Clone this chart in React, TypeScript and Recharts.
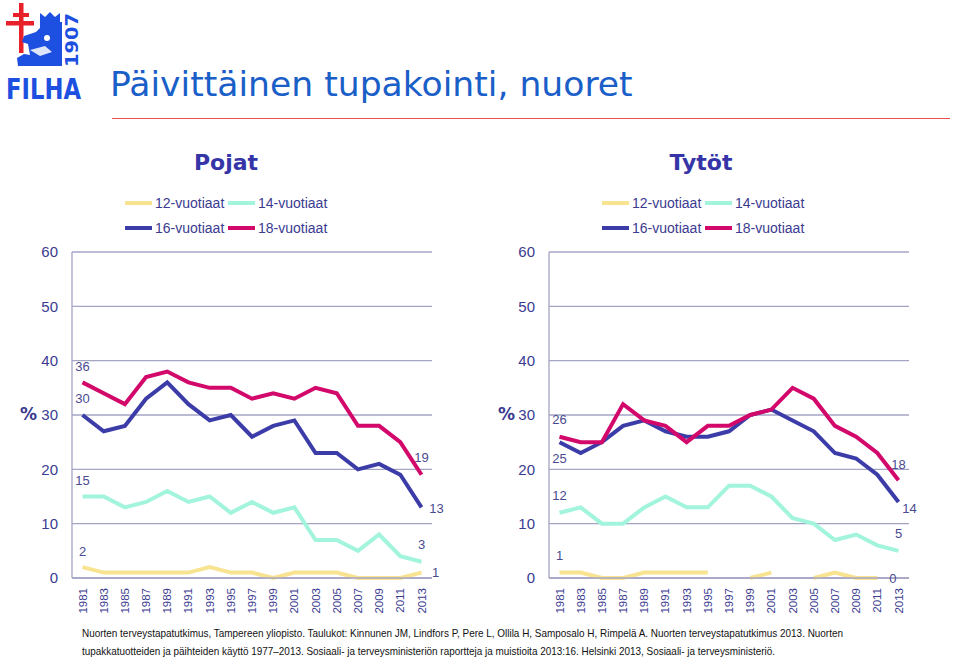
import React from 'react'
import { LineChart, Line, XAxis, YAxis, CartesianGrid, ReferenceDot } from 'recharts'

// Daily smoking, % by age group (Nuorten terveystapatutkimus 1981–2013)
const years = ['1981', '1983', '1985', '1987', '1989', '1991', '1993', '1995', '1997', '1999', '2001', '2003', '2005', '2007', '2009', '2011', '2013']

const boys12 = [2, 1, 1, 1, 1, 1, 2, 1, 1, 0, 1, 1, 1, 0, 0, 0, 1]
const boys14 = [15, 15, 13, 14, 16, 14, 15, 12, 14, 12, 13, 7, 7, 5, 8, 4, 3]
const boys16 = [30, 27, 28, 33, 36, 32, 29, 30, 26, 28, 29, 23, 23, 20, 21, 19, 13]
const boys18 = [36, 34, 32, 37, 38, 36, 35, 35, 33, 34, 33, 35, 34, 28, 28, 25, 19]

const girls12 = [1, 1, 0, 0, 1, 1, 1, 1, null, 0, 1, null, 0, 1, 0, 0, null]
const girls14 = [12, 13, 10, 10, 13, 15, 13, 13, 17, 17, 15, 11, 10, 7, 8, 6, 5]
const girls16 = [25, 23, 25, 28, 29, 27, 26, 26, 27, 30, 31, 29, 27, 23, 22, 19, 14]
const girls18 = [26, 25, 25, 32, 29, 28, 25, 28, 28, 30, 31, 35, 33, 28, 26, 23, 18]
// 2013 value for 12-year-old girls is printed but no line is drawn to it
const girls12Last = 0

const yTicks = [0, 10, 20, 30, 40, 50, 60]

const colors = {
  y12: '#f8e391',
  y14: '#a2f5dc',
  y16: '#3c3ca8',
  y18: '#d2086a',
}
const legendItems = [
  { key: 'y12', label: '12-vuotiaat' },
  { key: 'y14', label: '14-vuotiaat' },
  { key: 'y16', label: '16-vuotiaat' },
  { key: 'y18', label: '18-vuotiaat' },
]

const textBlue = '#3b3b90'
const labelColor = '#4a4a90'
const gridColor = '#a4a4c4'

const boysData = years.map((year, i) => ({
  year,
  y12: boys12[i],
  y14: boys14[i],
  y16: boys16[i],
  y18: boys18[i],
}))
const girlsData = years.map((year, i) => ({
  year,
  y12: girls12[i],
  y14: girls14[i],
  y16: girls16[i],
  y18: girls18[i],
}))

type Off = { dx: number; dy: number }

// dot renderer that only prints the first and last value
const endLabels = (first: Off | null, last: Off | null) => (props: any) => {
  const { cx, cy, index, value, key } = props
  const off = index === 0 ? first : index === years.length - 1 ? last : null
  if (!off || cy == null || value == null) return <g key={key ?? index} />
  return (
    <text
      key={key ?? index}
      x={cx + off.dx}
      y={cy + off.dy}
      textAnchor="middle"
      dominantBaseline="central"
      fontSize={13}
      fontFamily="'Liberation Sans', Arial, sans-serif"
      fill={labelColor}
    >
      {value}
    </text>
  )
}

const YearTick = (props: any) => {
  const { x, y, payload } = props
  return (
    <text
      x={x}
      y={y + 2}
      transform={`rotate(-90 ${x} ${y + 2})`}
      textAnchor="end"
      dominantBaseline="central"
      fontSize={11.5}
      fontFamily="'Liberation Sans', Arial, sans-serif"
      fill={textBlue}
    >
      {payload.value}
    </text>
  )
}

function Legend({ left }: { left: number }) {
  const rows = [legendItems.slice(0, 2), legendItems.slice(2, 4)]
  return (
    <div style={{ position: 'absolute', left, top: 190 }}>
      {rows.map((row, r) => (
        <div key={r} style={{ display: 'flex', alignItems: 'center', height: 25 }}>
          {row.map((it) => (
            <div key={it.key} style={{ display: 'flex', alignItems: 'center', width: 103 }}>
              <div style={{ width: 27, height: 4, background: (colors as any)[it.key], marginRight: 3 }} />
              <span style={{ fontSize: 14, color: textBlue, fontFamily: "'Liberation Sans', Arial, sans-serif" }}>
                {it.label}
              </span>
            </div>
          ))}
        </div>
      ))}
    </div>
  )
}

function Panel({ data, left, labels, extra }: { data: any[]; left: number; labels: Record<string, [Off | null, Off | null]>; extra?: React.ReactNode }) {
  return (
    <div style={{ position: 'absolute', left, top: 242 }}>
      <LineChart width={426} height={381} data={data} margin={{ top: 10, right: 26, left: 0, bottom: 0 }}>
        <CartesianGrid vertical={false} stroke={gridColor} strokeWidth={1.3} />
        <XAxis
          dataKey="year"
          padding={{ left: 10.5, right: 10.5 }}
          height={45}
          interval={0}
          tickLine={false}
          axisLine={{ stroke: gridColor, strokeWidth: 1.3 }}
          tick={<YearTick />}
        />
        <YAxis
          domain={[0, 60]}
          ticks={yTicks}
          width={40}
          tickLine={false}
          tickMargin={8}
          axisLine={{ stroke: gridColor, strokeWidth: 1.3 }}
          tick={{ fontSize: 15, fill: textBlue, fontFamily: "'Liberation Sans', Arial, sans-serif" }}
        />
        {(['y12', 'y14', 'y16', 'y18'] as const).map((k) => (
          <Line
            key={k}
            type="linear"
            dataKey={k}
            stroke={colors[k]}
            strokeWidth={4}
            dot={endLabels(labels[k][0], labels[k][1])}
            activeDot={false}
            isAnimationActive={false}
          />
        ))}
        {extra}
      </LineChart>
    </div>
  )
}

function Logo() {
  return (
    <svg width={106} height={115} style={{ position: 'absolute', left: 0, top: 0 }}>
      {/* cross of Lorraine */}
      <rect x={19} y={3} width={4.5} height={50} fill="#e8202a" />
      <rect x={13} y={13} width={16} height={4} fill="#e8202a" />
      <rect x={6} y={21} width={28} height={4.5} fill="#e8202a" />
      {/* lion block */}
      <path
        d="M40 22 L40 13 L45 17 L50 12 L55 17 L60 13 L60 22 L62 22 L62 66 L18 66 L17 58 L24 54 L30 55 L28 44 L22 42 L24 36 L36 32 L40 28 Z"
        fill="#1d4fe0"
      />
      <circle cx={47} cy={38} r={3} fill="#fff" />
      <path d="M30 50 L45 46 L52 52 L40 56 Z" fill="#fff" opacity={0.85} />
      <text
        x={72}
        y={40}
        transform="rotate(-90 72 40)"
        textAnchor="middle"
        dominantBaseline="central"
        fontSize={17}
        fontWeight="bold"
        fontFamily="'DejaVu Sans', sans-serif"
        fill="#1d4fe0"
        textLength={54}
        lengthAdjust="spacingAndGlyphs"
      >
        1907
      </text>
      <g transform="scale(1 1.2)">
        <text
          x={6}
          y={82.5}
          fontSize={24}
          fontWeight="bold"
          fontFamily="'DejaVu Sans', sans-serif"
          fill="#1d4fe0"
          textLength={75}
          lengthAdjust="spacingAndGlyphs"
        >
          FILHA
        </text>
      </g>
    </svg>
  )
}

export default function App() {
  const boysLabels: Record<string, [Off | null, Off | null]> = {
    y12: [{ dx: 0, dy: -16 }, { dx: 14, dy: 0 }],
    y14: [{ dx: 0, dy: -16 }, { dx: 0, dy: -17 }],
    y16: [{ dx: 0, dy: -17 }, { dx: 15, dy: 1 }],
    y18: [{ dx: 0, dy: -16 }, { dx: 0, dy: -17 }],
  }
  const girlsLabels: Record<string, [Off | null, Off | null]> = {
    y12: [{ dx: 0, dy: -17 }, null],
    y14: [{ dx: 0, dy: -17 }, { dx: 0, dy: -17 }],
    y16: [{ dx: 0, dy: 16 }, { dx: 11, dy: 7 }],
    y18: [{ dx: 0, dy: -17 }, { dx: 0, dy: -16 }],
  }

  const girlsExtra = (
    <ReferenceDot
      x={years[years.length - 1]}
      y={girls12Last}
      r={0}
      ifOverflow="visible"
      label={{ value: String(girls12Last), position: 'left', offset: 2, fontSize: 13, fill: labelColor, fontFamily: "'Liberation Sans', Arial, sans-serif" }}
    />
  )

  const pct = (left: number) => (
    <div
      style={{
        position: 'absolute',
        left,
        top: 404,
        fontSize: 17,
        fontWeight: 'bold',
        color: textBlue,
        fontFamily: "'DejaVu Sans', Verdana, sans-serif",
      }}
    >
      %
    </div>
  )

  const heading = { position: 'absolute' as const, width: 200, top: 150, textAlign: 'center' as const, fontSize: 22, fontWeight: 'bold' as const, color: '#3535a8', fontFamily: "'DejaVu Sans', Verdana, sans-serif" }

  return (
    <div style={{ position: 'absolute', left: 0, top: 0, width: 960, height: 661, background: '#fff', overflow: 'hidden' }}>
      <Logo />
      <div
        style={{
          position: 'absolute',
          left: 110,
          top: 64,
          fontSize: 34.6,
          lineHeight: '40px',
          color: '#1a5ec8',
          fontFamily: "'DejaVu Sans', Verdana, sans-serif",
          whiteSpace: 'nowrap',
        }}
      >
        Päivittäinen tupakointi, nuoret
      </div>
      <div style={{ position: 'absolute', left: 112, top: 118, width: 838, height: 1, background: '#e85050' }} />

      <div style={{ ...heading, left: 126 }}>Pojat</div>
      <div style={{ ...heading, left: 601 }}>Tytöt</div>

      <Legend left={125} />
      <Legend left={602} />

      {pct(20)}
      {pct(498)}

      <Panel data={boysData} left={32} labels={boysLabels} />
      <Panel data={girlsData} left={509} labels={girlsLabels} extra={girlsExtra} />

      <svg width={960} height={40} style={{ position: 'absolute', left: 0, top: 622 }}>
        <text x={82} y={15} fontSize={10.5} fontFamily="'Liberation Sans', Arial, sans-serif" fill="#111" textLength={761} lengthAdjust="spacingAndGlyphs">
          Nuorten terveystapatutkimus, Tampereen yliopisto. Taulukot: Kinnunen JM, Lindfors P, Pere L, Ollila H, Samposalo H, Rimpelä A. Nuorten terveystapatutkimus 2013. Nuorten
        </text>
        <text x={82} y={33} fontSize={10.5} fontFamily="'Liberation Sans', Arial, sans-serif" fill="#111" textLength={693} lengthAdjust="spacingAndGlyphs">
          tupakkatuotteiden ja päihteiden käyttö 1977–2013. Sosiaali- ja terveysministeriön raportteja ja muistioita 2013:16. Helsinki 2013, Sosiaali- ja terveysministeriö.
        </text>
      </svg>
    </div>
  )
}
